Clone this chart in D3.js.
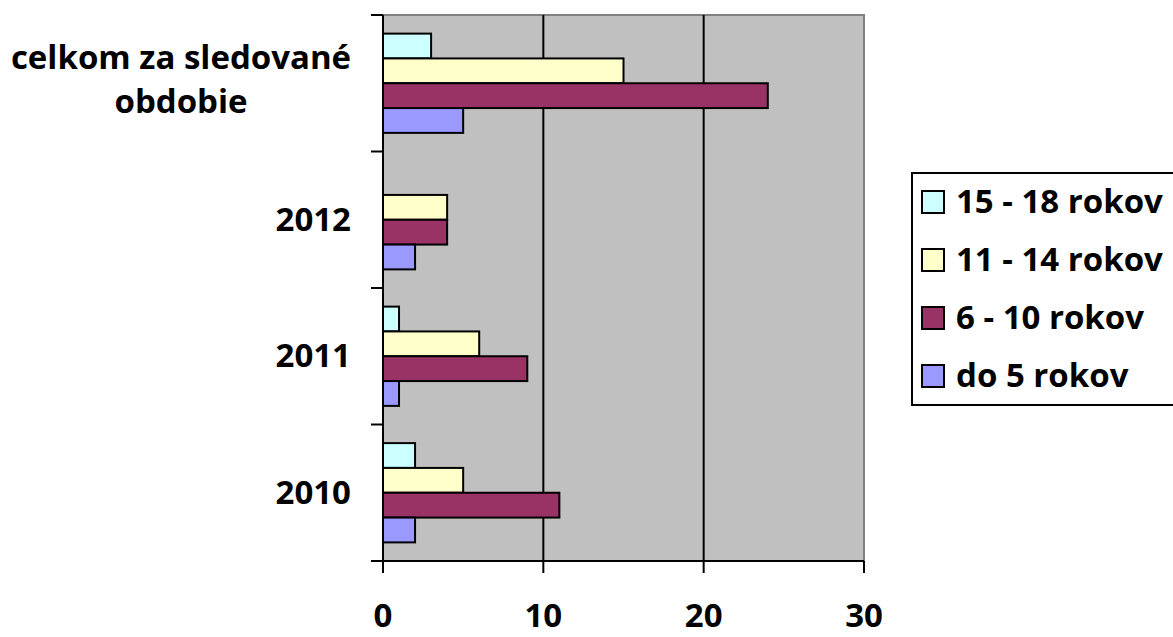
<!DOCTYPE html>
<html>
<head>
<meta charset="utf-8">
<script src="https://cdn.jsdelivr.net/npm/d3@7"></script>
<style>
  body { margin: 0; background: #fff; overflow: hidden; }
  svg { display: block; }
  text { font-family: "Open Sans", sans-serif; font-weight: bold; fill: #000; }
</style>
</head>
<body>
<script>
// kategórie (zhora nadol) a hodnoty jednotlivých vekových skupín
const categories = ["celkom za sledované obdobie", "2012", "2011", "2010"];
const series = ["15 - 18 rokov", "11 - 14 rokov", "6 - 10 rokov", "do 5 rokov"];
const v15_18 = [3, 0, 1, 2];
const v11_14 = [15, 4, 6, 5];
const v6_10 = [24, 4, 9, 11];
const vDo5 = [5, 2, 1, 2];
const xTicks = [0, 10, 20, 30];
const colors = ["#CCFFFF", "#FFFFCC", "#993366", "#9999FF"];

const values = [v15_18, v11_14, v6_10, vDo5];

const W = 1173, H = 637;
const plot = { left: 383, right: 864, top: 15, bottom: 561 };
const fs = 33;

const svg = d3.select("body").append("svg")
    .attr("width", W)
    .attr("height", H);

const x = d3.scaleLinear().domain([0, 30]).range([plot.left, plot.right]);
const y = d3.scaleBand().domain(categories).range([plot.top, plot.bottom]);
// Excel: šírka medzery 150 %
const bw = y.bandwidth() / (series.length + 1.5);

// pozadie grafu
svg.append("rect")
    .attr("x", plot.left).attr("y", plot.top)
    .attr("width", plot.right - plot.left).attr("height", plot.bottom - plot.top)
    .attr("fill", "#C0C0C0")
    .attr("stroke", "#808080")
    .attr("stroke-width", 2);

// mriežka
svg.selectAll(".grid")
    .data(xTicks.slice(1, -1))
    .enter().append("line")
    .attr("x1", d => x(d)).attr("x2", d => x(d))
    .attr("y1", plot.top).attr("y2", plot.bottom)
    .attr("stroke", "#000")
    .attr("stroke-width", 2);

// stĺpce
categories.forEach((c, ci) => {
    const y0 = y(c) + bw * 0.75;
    series.forEach((s, si) => {
        const v = values[si][ci];
        if (v <= 0) return;
        svg.append("rect")
            .attr("x", x(0))
            .attr("y", y0 + si * bw)
            .attr("width", x(v) - x(0))
            .attr("height", bw)
            .attr("fill", colors[si])
            .attr("stroke", "#000")
            .attr("stroke-width", 2);
    });
});

// osi
svg.append("line")
    .attr("x1", plot.left - 12).attr("x2", plot.right)
    .attr("y1", plot.bottom).attr("y2", plot.bottom)
    .attr("stroke", "#000").attr("stroke-width", 2);
svg.append("line")
    .attr("x1", plot.left).attr("x2", plot.left)
    .attr("y1", plot.top).attr("y2", plot.bottom + 12)
    .attr("stroke", "#000").attr("stroke-width", 2);

// značky osi y (hranice kategórií)
const bounds = categories.map(c => y(c)).concat([plot.bottom]);
svg.selectAll(".ytick")
    .data(bounds)
    .enter().append("line")
    .attr("x1", plot.left - 12).attr("x2", plot.left)
    .attr("y1", d => d).attr("y2", d => d)
    .attr("stroke", "#000").attr("stroke-width", 2);

// značky osi x
svg.selectAll(".xtick")
    .data(xTicks)
    .enter().append("line")
    .attr("x1", d => x(d)).attr("x2", d => x(d))
    .attr("y1", plot.bottom).attr("y2", plot.bottom + 12)
    .attr("stroke", "#000").attr("stroke-width", 2);

svg.selectAll(".xlabel")
    .data(xTicks)
    .enter().append("text")
    .attr("x", d => x(d))
    .attr("y", 627)
    .attr("text-anchor", "middle")
    .attr("font-size", fs)
    .text(d => d);

// popisy kategórií
const catLines = {
    "celkom za sledované obdobie": ["celkom za sledované", "obdobie"]
};
categories.forEach(c => {
    const lines = catLines[c] || [c];
    const cy = y(c) + y.bandwidth() / 2;
    if (lines.length === 1) {
        svg.append("text")
            .attr("x", 351)
            .attr("y", cy + 11)
            .attr("text-anchor", "end")
            .attr("font-size", fs)
            .text(c);
    } else {
        lines.forEach((l, i) => {
            svg.append("text")
                .attr("x", 181)
                .attr("y", cy - 14 + i * 44)
                .attr("text-anchor", "middle")
                .attr("font-size", fs)
                .text(l);
        });
    }
});

// legenda
const lg = svg.append("g").attr("transform", "translate(912,173)");
lg.append("rect")
    .attr("x", 0).attr("y", 0)
    .attr("width", 320).attr("height", 232)
    .attr("fill", "#fff")
    .attr("stroke", "#000")
    .attr("stroke-width", 2);
series.forEach((s, i) => {
    const cy = 29 + i * 58;
    lg.append("rect")
        .attr("x", 10).attr("y", cy - 11)
        .attr("width", 22).attr("height", 22)
        .attr("fill", colors[i])
        .attr("stroke", "#000")
        .attr("stroke-width", 2);
    lg.append("text")
        .attr("x", 44).attr("y", cy + 11)
        .attr("font-size", fs)
        .text(s);
});
</script>
</body>
</html>
